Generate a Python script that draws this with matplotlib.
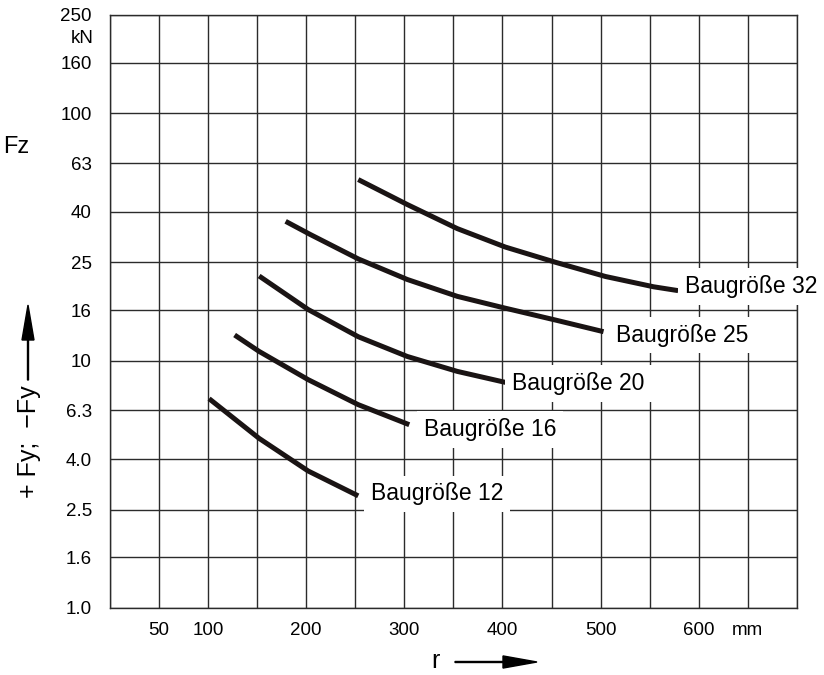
import numpy as np
import matplotlib.pyplot as plt
from matplotlib.patches import FancyArrow

plt.rcParams['font.family'] = ['Liberation Sans', 'DejaVu Sans']

# curves: r in mm, F in kN
r32 = [253, 303, 354, 403, 454, 505, 554, 579]
f32 = [54.0, 42.8, 34.2, 28.8, 25.0, 21.9, 19.9, 19.2]
r25 = [179, 204, 253, 303, 354, 403, 454, 503]
f25 = [36.6, 32.4, 25.8, 21.3, 18.2, 16.3, 14.6, 13.1]
r20 = [152, 202, 253, 303, 354, 403]
f20 = [22.0, 16.1, 12.5, 10.4, 9.05, 8.17]
r16 = [127, 152, 202, 253, 305]
f16 = [12.7, 10.9, 8.38, 6.64, 5.51]
r12 = [101, 152, 202, 253]
f12 = [7.02, 4.85, 3.58, 2.84]

names = ['Baugröße 32', 'Baugröße 25', 'Baugröße 20', 'Baugröße 16', 'Baugröße 12']
label_r = [586, 516, 410, 320, 266]
label_f = [19.9, 12.7, 8.07, 5.26, 2.89]

yticks = [1.0, 1.6, 2.5, 4.0, 6.3, 10, 16, 25, 40, 63, 100, 160, 250]
ytick_labels = ['1.0', '1.6', '2.5', '4.0', '6.3', '10', '16', '25', '40', '63', '100', '160', '250']
xgrid = list(range(0, 701, 50))
xtick_labels = ['', '50', '100', '', '200', '', '300', '', '400', '', '500', '', '600', 'mm', '']

fig = plt.figure(figsize=(8.24, 6.75), dpi=100)
ax = fig.add_axes([0.1335, 0.0993, 0.8335, 0.8785])

line_col = '#1a1414'
grid_col = '#2b2b2b'

for rr, ff in [(r32, f32), (r25, f25), (r20, f20), (r16, f16), (r12, f12)]:
    ax.plot(rr, ff, color=line_col, lw=3.6, solid_capstyle='butt',
            solid_joinstyle='round', zorder=3)

for name, lx, ly in zip(names, label_r, label_f):
    ax.text(lx, ly, name, fontsize=16.5, ha='left', va='center', zorder=4,
            bbox=dict(boxstyle='square,pad=0.3', fc='white', ec='none'))

ax.set_yscale('log')
ax.set_xlim(0, 700)
ax.set_ylim(1.0, 250)
ax.set_xticks(xgrid)
ax.set_xticklabels(xtick_labels, fontsize=13.5)
ax.set_yticks(yticks)
ax.set_yticklabels(ytick_labels, fontsize=13.5)
ax.yaxis.set_minor_locator(plt.NullLocator())
ax.tick_params(axis='x', length=0, pad=10)
ax.tick_params(axis='y', length=0, pad=13)
ax.grid(True, color=grid_col, lw=1.0, zorder=1)
ax.set_axisbelow(True)
for s in ax.spines.values():
    s.set_color(grid_col)
    s.set_linewidth(1.0)

# unit label between 250 and 160
ax.text(-0.0235, 200, 'kN', transform=ax.get_yaxis_transform(), fontsize=13.5,
        ha='right', va='center')

# axis labels with arrows
fig.text(435 / 824, 1 - 661 / 675, 'r', fontsize=18, ha='center', va='center')
fig.patches.append(FancyArrow(
    455 / 824, 1 - 662 / 675, 82 / 824, 0, width=0.0015, head_width=0.018,
    head_length=34 / 824, length_includes_head=True, color='black',
    transform=fig.transFigure))

fig.text(29 / 824, 1 - 442 / 675, '+ Fy;  \u2212Fy',
         fontsize=18, rotation=90, ha='center', va='center')
fig.patches.append(FancyArrow(
    28 / 824, 1 - 380 / 675, 0, 75 / 675, width=0.0012, head_width=12 / 824,
    head_length=35 / 675, length_includes_head=True, color='black',
    transform=fig.transFigure))

fig.text(3 / 824, 1 - 147 / 675, 'Fz', fontsize=17, ha='left', va='center')

fig.savefig('out.png', dpi=100)
